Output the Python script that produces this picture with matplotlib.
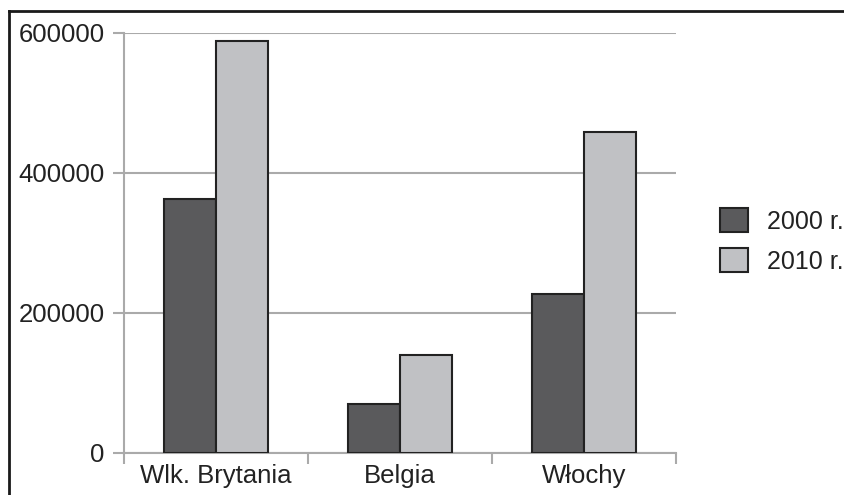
import matplotlib.pyplot as plt
from matplotlib.lines import Line2D
from matplotlib.patches import Patch
import numpy as np

plt.rcParams['font.family'] = ['Liberation Sans', 'DejaVu Sans']

# dane
kraje = ['Wlk. Brytania', 'Belgia', 'Włochy']
lata = ['2000 r.', '2010 r.']
wartosci_2000 = [363000, 70000, 227000]
wartosci_2010 = [589000, 140000, 458000]
kolory = ['#5a5a5c', '#c0c1c4']
yticks = [0, 200000, 400000, 600000]

fig = plt.figure(figsize=(8.44, 4.95), dpi=100)
ax = fig.add_axes([124 / 844, 1 - 453 / 495, 552 / 844, 420 / 495])

x = np.arange(len(kraje))
w = 0.283
ax.bar(x - w / 2, wartosci_2000, w, color=kolory[0], edgecolor='#222222', linewidth=1.5, zorder=3)
ax.bar(x + w / 2, wartosci_2010, w, color=kolory[1], edgecolor='#222222', linewidth=1.5, zorder=3)

ax.set_xlim(-0.5, 2.5)
ax.set_ylim(0, 600000)
ax.set_yticks(yticks)
ax.set_yticklabels([str(v) for v in yticks])
ax.yaxis.grid(True, color='#aaaaaa', linewidth=1.5, zorder=0)

# podpisy kategorii bez ticków, ticki na granicach
ax.set_xticks(x)
ax.set_xticklabels(kraje)
ax.tick_params(axis='x', length=0, pad=8, labelsize=18.5, labelcolor='#222222')
ax.set_xticks([-0.5, 0.5, 1.5, 2.5], minor=True)
ax.tick_params(axis='x', which='minor', length=8, width=1.5, color='#aaaaaa', direction='out')
ax.tick_params(axis='y', length=8, width=1.5, color='#aaaaaa', pad=6, labelsize=18.5, labelcolor='#222222')

for s in ['top', 'right']:
    ax.spines[s].set_visible(False)
for s in ['left', 'bottom']:
    ax.spines[s].set_color('#aaaaaa')
    ax.spines[s].set_linewidth(1.5)

uchwyty = [Patch(facecolor=kolory[i], edgecolor='#222222', linewidth=1.5, label=lata[i]) for i in range(2)]
fig.legend(handles=uchwyty, loc='center left', bbox_to_anchor=(710 / 844, 1 - 241 / 495),
           frameon=False, fontsize=18, handlelength=1.12, handleheight=1.1,
           handletextpad=0.76, labelspacing=0.58, labelcolor='#222222',
           borderaxespad=0, borderpad=0.4)

# ramka dookoła (góra i lewo)
fig.add_artist(Line2D([9 / 844, 1.0], [1 - 11 / 495, 1 - 11 / 495], color='#1a1a1a', linewidth=2))
fig.add_artist(Line2D([9 / 844, 9 / 844], [0, 1 - 11 / 495], color='#1a1a1a', linewidth=2))

fig.savefig('out.png', dpi=100)
